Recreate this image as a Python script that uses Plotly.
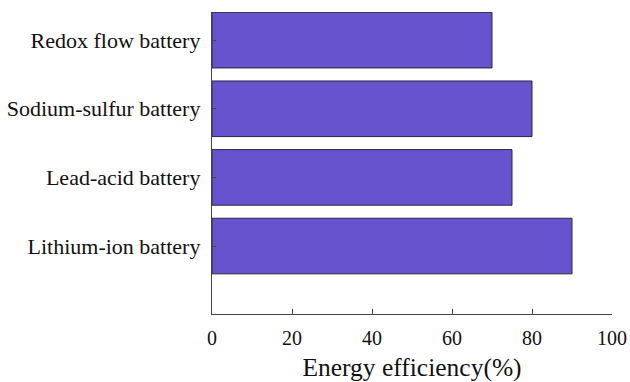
import plotly.graph_objects as go

categories = ["Lithium-ion battery", "Lead-acid battery", "Sodium-sulfur battery", "Redox flow battery"]
efficiency = [90, 75, 80, 70]
x_ticks = [0, 20, 40, 60, 80, 100]

fig = go.Figure(go.Bar(
    x=efficiency, y=categories, orientation="h",
    marker=dict(color="#6853CF", line=dict(color="#2a2840", width=1)),
    width=0.81,
))

font = "Liberation Serif, Times New Roman, serif"
fig.update_layout(
    width=630, height=382,
    margin=dict(l=212, r=18, t=12, b=68),
    plot_bgcolor="white", paper_bgcolor="white",
    showlegend=False,
    font=dict(family=font, color="#111111"),
)
fig.update_xaxes(
    range=[0, 100], tickvals=x_ticks, ticks="inside", ticklen=5, tickcolor="#444",
    showline=True, linecolor="#444", linewidth=1.3, showgrid=False, zeroline=False,
    tickfont=dict(size=20, family=font), automargin=False, ticklabelstandoff=6,
    title=dict(text="Energy efficiency(%)", font=dict(size=25.5, family=font), standoff=12),
)
fig.update_yaxes(
    range=[-0.99, 3.41], ticks="inside", ticklen=4, tickcolor="#444",
    showline=True, linecolor="#444", linewidth=1.3, showgrid=False,
    tickfont=dict(size=22, family=font), ticklabelstandoff=6, automargin=False,
)
fig.write_html("out.html", config={"displayModeBar": False},
               post_script="document.body.style.margin='0';document.body.style.overflow='hidden';")
